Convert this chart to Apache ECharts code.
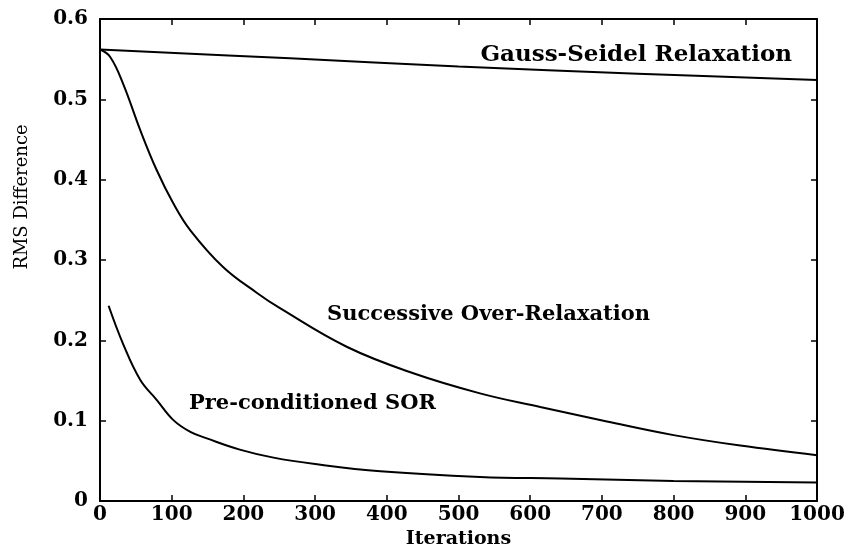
<!DOCTYPE html>
<html>
<head>
<meta charset="utf-8">
<script src="https://cdn.jsdelivr.net/npm/echarts@6/dist/echarts.min.js"></script>
<style>
  html, body { margin: 0; padding: 0; background: #fff; }
  #chart { width: 860px; height: 547px; }
</style>
</head>
<body>
<div id="chart"></div>
<script>
// data
var gsIter = [0, 265, 500, 750, 1000];
var gsRms = [0.562, 0.551, 0.541, 0.532, 0.524];

var sorIter = [0, 14, 32, 56, 79, 102, 126, 172, 219, 251, 344, 437, 530, 614, 707, 800, 893, 1000];
var sorRms = [0.562, 0.553, 0.520, 0.462, 0.412, 0.371, 0.337, 0.291, 0.259, 0.240, 0.192, 0.159, 0.134, 0.117, 0.099, 0.082, 0.069, 0.057];

var preIter = [12, 32, 56, 79, 102, 126, 149, 195, 242, 300, 391, 530, 642, 800, 1000];
var preRms = [0.243, 0.196, 0.151, 0.126, 0.101, 0.086, 0.078, 0.064, 0.054, 0.046, 0.037, 0.030, 0.028, 0.025, 0.023];

function pairs(xs, ys) {
  var out = []
  for (var i = 0; i < xs.length; i++) {
    out.push([xs[i], ys[i]])
  }
  return out
}

var font = 'DejaVu Serif';
var chart = echarts.init(document.getElementById('chart'));

var axisLine = { show: true, onZero: false, lineStyle: { color: '#000', width: 2 } };
var axisTick = { show: true, inside: true, length: 6, lineStyle: { color: '#000', width: 1.5 } };

var lineSeries = function (name, data) {
  return {
    name: name,
    type: 'line',
    data: data,
    showSymbol: false,
    smooth: 0.4,
    lineStyle: { color: '#000', width: 2 },
    animation: false
  }
}

var option = {
  animation: false,
  grid: { left: 100, right: 43, top: 19, bottom: 46, outerBoundsMode: 'none', containLabel: false },
  xAxis: [
    {
      type: 'value',
      min: 0, max: 1000, interval: 100,
      position: 'bottom',
      axisLine: axisLine,
      axisTick: axisTick,
      splitLine: { show: false },
      axisLabel: {
        color: '#000', fontFamily: font, fontWeight: 'bold', fontSize: 20, margin: 4,
        formatter: function (v) { return String(v) }
      },
      name: 'Iterations',
      nameLocation: 'middle',
      nameGap: 26,
      nameTextStyle: { color: '#000', fontFamily: font, fontWeight: 'bold', fontSize: 19 }
    },
    {
      type: 'value',
      min: 0, max: 1000, interval: 100,
      position: 'top',
      axisLine: axisLine,
      axisTick: axisTick,
      axisLabel: { show: false },
      splitLine: { show: false }
    }
  ],
  yAxis: [
    {
      type: 'value',
      min: 0, max: 0.6, interval: 0.1,
      position: 'left',
      axisLine: axisLine,
      axisTick: axisTick,
      splitLine: { show: false },
      axisLabel: {
        color: '#000', fontFamily: font, fontWeight: 'bold', fontSize: 20, margin: 12,
        formatter: function (v) {
          var r = Math.round(v * 10) / 10
          return r === 0 ? '0' : r.toFixed(1)
        }
      }
    },
    {
      type: 'value',
      min: 0, max: 0.6, interval: 0.1,
      position: 'right',
      axisLine: axisLine,
      axisTick: axisTick,
      axisLabel: { show: false },
      splitLine: { show: false }
    }
  ],
  graphic: [
    { type: 'text', x: 22, y: 197, rotation: Math.PI / 2, style: { text: 'RMS Difference', font: '18px "DejaVu Serif"', fill: '#000', align: 'center', verticalAlign: 'middle' } },
    { type: 'text', right: 68, top: 44, style: { text: 'Gauss-Seidel Relaxation', font: 'bold 23px "DejaVu Serif"', fill: '#000' } },
    { type: 'text', left: 327, top: 304, style: { text: 'Successive Over-Relaxation', font: 'bold 21px "DejaVu Serif"', fill: '#000' } },
    { type: 'text', left: 189, top: 393, style: { text: 'Pre-conditioned SOR', font: 'bold 21px "DejaVu Serif"', fill: '#000' } }
  ],
  series: [
    lineSeries('Gauss-Seidel Relaxation', pairs(gsIter, gsRms)),
    lineSeries('Successive Over-Relaxation', pairs(sorIter, sorRms)),
    lineSeries('Pre-conditioned SOR', pairs(preIter, preRms))
  ]
};

chart.setOption(option);
</script>
</body>
</html>
